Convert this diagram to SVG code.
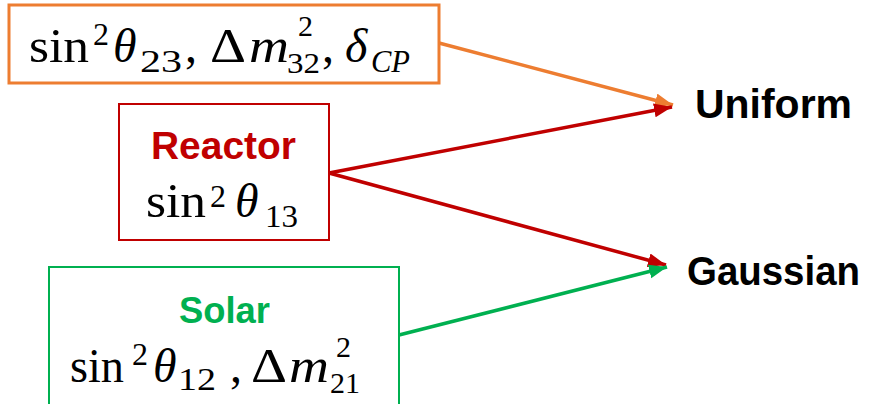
<svg xmlns="http://www.w3.org/2000/svg" width="869" height="404" viewBox="0 0 869 404">
<style>
.m{font-family:"Liberation Serif","Times New Roman",serif;font-size:48px;fill:#000}
.i{font-style:italic}
.s{font-size:32px}
.t{font-size:30px}
.lbl{font-family:"Liberation Sans",Arial,sans-serif;font-weight:bold}
.box{fill:#fff}
.ln{fill:none;stroke-width:3.5}
</style>
<defs>
<marker id="ao" markerUnits="userSpaceOnUse" markerWidth="20" markerHeight="16" refX="18" refY="7" orient="auto"><path d="M0,0 L18,7 L0,14 z" fill="#ED7D31"/></marker>
<marker id="ar" markerUnits="userSpaceOnUse" markerWidth="20" markerHeight="16" refX="18" refY="7" orient="auto"><path d="M0,0 L18,7 L0,14 z" fill="#C00000"/></marker>
<marker id="ag" markerUnits="userSpaceOnUse" markerWidth="20" markerHeight="16" refX="18" refY="7" orient="auto"><path d="M0,0 L18,7 L0,14 z" fill="#00B050"/></marker>
</defs>
<g id="connectors">
<line class="ln" x1="439" y1="43" x2="673" y2="105" stroke="#ED7D31" stroke-width="3" marker-end="url(#ao)"/>
<line class="ln" x1="329" y1="173" x2="672" y2="107" stroke="#C00000" marker-end="url(#ar)"/>
<line class="ln" x1="329" y1="173" x2="666" y2="265" stroke="#C00000" marker-end="url(#ar)"/>
<line class="ln" x1="399" y1="335" x2="667" y2="267" stroke="#00B050" marker-end="url(#ag)"/>
</g>
<g id="atmospheric">
<rect class="box" x="9" y="5" width="430" height="78" stroke="#ED7D31" stroke-width="3"/>
<text class="m" x="29" y="62" textLength="60" lengthAdjust="spacingAndGlyphs">sin</text>
<text class="m s" x="93" y="45">2</text>
<text class="m i" x="113" y="62">θ</text>
<text class="m s" x="140" y="72" textLength="42" lengthAdjust="spacingAndGlyphs">23</text>
<text class="m" x="185" y="62">,</text>
<text class="m" x="210" y="62" textLength="36" lengthAdjust="spacingAndGlyphs">Δ</text>
<text class="m i" x="249" y="62" textLength="40" lengthAdjust="spacingAndGlyphs">m</text>
<text class="m t" x="298" y="36">2</text>
<text class="m t" x="287" y="73" textLength="33" lengthAdjust="spacingAndGlyphs">32</text>
<text class="m" x="322" y="62">,</text>
<text class="m i" x="345" y="62">δ</text>
<text class="m i s" x="371" y="72" textLength="39" lengthAdjust="spacingAndGlyphs">CP</text>
</g>
<g id="reactor">
<rect class="box" x="119" y="104" width="210" height="136" stroke="#C00000" stroke-width="2"/>
<text class="lbl" x="151" y="159" font-size="39" fill="#C00000" textLength="145" lengthAdjust="spacingAndGlyphs">Reactor</text>
<text class="m" x="146" y="217" textLength="60" lengthAdjust="spacingAndGlyphs">sin</text>
<text class="m s" x="210" y="207">2</text>
<text class="m i" x="235" y="217">θ</text>
<text class="m s" x="265" y="227" textLength="33" lengthAdjust="spacingAndGlyphs">13</text>
</g>
<g id="solar">
<rect class="box" x="49" y="267" width="350" height="150" stroke="#00B050" stroke-width="2"/>
<text class="lbl" x="179" y="323" font-size="37" fill="#00B050" textLength="91" lengthAdjust="spacingAndGlyphs">Solar</text>
<text class="m" x="70" y="382" textLength="54" lengthAdjust="spacingAndGlyphs">sin</text>
<text class="m s" x="132" y="365">2</text>
<text class="m i" x="153" y="382">θ</text>
<text class="m s" x="178" y="390" textLength="38" lengthAdjust="spacingAndGlyphs">12</text>
<text class="m" x="230" y="382">,</text>
<text class="m" x="251" y="382" textLength="36" lengthAdjust="spacingAndGlyphs">Δ</text>
<text class="m i" x="289" y="382" textLength="40" lengthAdjust="spacingAndGlyphs">m</text>
<text class="m t" x="336" y="357">2</text>
<text class="m t" x="330" y="393" textLength="30" lengthAdjust="spacingAndGlyphs">21</text>
</g>
<g id="uniform">
<text class="lbl" x="695" y="118" font-size="41" fill="#000" textLength="157" lengthAdjust="spacingAndGlyphs">Uniform</text>
</g>
<g id="gaussian">
<text class="lbl" x="687" y="285" font-size="40" fill="#000" textLength="173" lengthAdjust="spacingAndGlyphs">Gaussian</text>
</g>
</svg>
